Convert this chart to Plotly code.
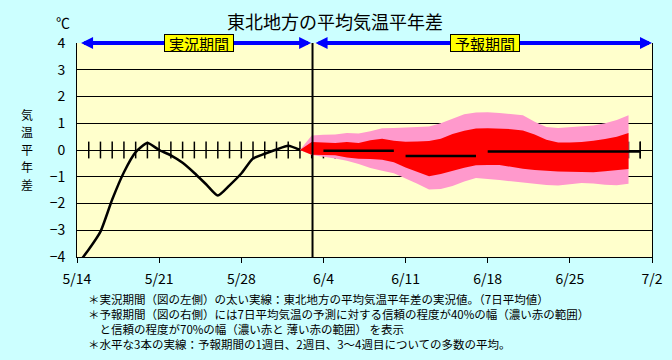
import plotly.graph_objects as go

# ---------------- data ----------------
tick_days = [0, 7, 14, 21, 28, 35, 42, 49]
tick_labels = ["5/14", "5/21", "5/28", "6/4", "6/11", "6/18", "6/25", "7/2"]

# observed 7-day mean anomaly (days since 5/14)
obs_days = list(range(0, 20))
obs_vals = [-4.3, -3.72, -3.05, -1.85, -0.83, -0.08, 0.26, 0.0, -0.20, -0.48,
            -0.86, -1.28, -1.70, -1.32, -0.88, -0.32, -0.14, 0.02, 0.16, 0.0]

# forecast confidence bands (days since 5/14)
fc_days = list(range(19, 48))
pink_upper = [0.0, 0.54, 0.57, 0.58, 0.64, 0.62, 0.70, 0.81, 0.82, 0.84,
              0.86, 0.88, 1.00, 1.18, 1.34, 1.40, 1.41, 1.38, 1.35, 1.30,
              1.06, 0.86, 0.82, 0.85, 0.88, 0.92, 1.00, 1.12, 1.30]
red_upper = [0.0, 0.30, 0.28, 0.26, 0.30, 0.26, 0.36, 0.42, 0.35, 0.31,
             0.32, 0.34, 0.42, 0.60, 0.72, 0.80, 0.81, 0.80, 0.78, 0.73,
             0.58, 0.38, 0.28, 0.28, 0.30, 0.35, 0.41, 0.50, 0.64]
red_lower = [0.0, -0.18, -0.19, -0.20, -0.28, -0.33, -0.34, -0.36, -0.46, -0.65,
             -0.83, -0.98, -0.90, -0.79, -0.66, -0.57, -0.56, -0.56, -0.62, -0.70,
             -0.75, -0.78, -0.80, -0.81, -0.81, -0.83, -0.79, -0.74, -0.71]
pink_lower = [0.0, -0.19, -0.25, -0.32, -0.40, -0.52, -0.67, -0.78, -0.87, -1.05,
              -1.26, -1.48, -1.46, -1.35, -1.18, -1.05, -1.08, -1.12, -1.17, -1.23,
              -1.27, -1.31, -1.33, -1.28, -1.23, -1.25, -1.30, -1.32, -1.26]

# ensemble mean for week1, week2, weeks3-4: (start day, end day, value)
week_starts = [21, 28, 35]
week_ends = [27, 34, 48]
week_means = [-0.03, -0.22, -0.06]

zero_tick_days = list(range(1, 49))
boundary_day = 20.07

y_title_chars = ["気", "温", "平", "年", "差"]
notes = [
    "＊実況期間（図の左側）の太い実線：東北地方の平均気温平年差の実況値。（7日平均値）",
    "＊予報期間（図の右側）には7日平均気温の予測に対する信頼の程度が40%の幅（濃い赤の範囲）",
    "　と信頼の程度が70%の幅（濃い赤と 薄い赤の範囲） を表示",
    "＊水平な3本の実線：予報期間の1週目、2週目、3～4週目についての多数の平均。",
]

# ---------------- figure ----------------
W, H = 672, 360
L, R, T, B = 77, 20, 43, 103
PW, PH = W - L - R, H - T - B
FONT = "Noto Sans CJK JP"

def px(xp):
    return (xp - L) / PW

def py(yp):
    return (H - B - yp) / PH

fig = go.Figure()

# zero line ticks
fig.add_trace(go.Scatter(
    x=zero_tick_days, y=[0] * len(zero_tick_days), mode="markers",
    marker=dict(symbol="line-ns", size=12, line=dict(color="black", width=1.5)),
    hoverinfo="skip", showlegend=False))

# 70% band (pink)
fig.add_trace(go.Scatter(
    x=fc_days + fc_days[::-1], y=pink_upper + pink_lower[::-1],
    fill="toself", fillcolor="#FF99CC", line=dict(width=0, color="#FF99CC"),
    mode="lines", hoverinfo="skip", showlegend=False))
# 40% band (red)
fig.add_trace(go.Scatter(
    x=fc_days + fc_days[::-1], y=red_upper + red_lower[::-1],
    fill="toself", fillcolor="#FF0000", line=dict(width=0, color="#FF0000"),
    mode="lines", hoverinfo="skip", showlegend=False))

# weekly means
for s, e, v in zip(week_starts, week_ends, week_means):
    fig.add_trace(go.Scatter(
        x=[s, e], y=[v, v], mode="lines",
        line=dict(color="black", width=2.5), hoverinfo="skip", showlegend=False))

# end tick of forecast period
fig.add_trace(go.Scatter(
    x=[week_ends[-1]], y=[0], mode="markers",
    marker=dict(symbol="line-ns", size=12, line=dict(color="black", width=1.5)),
    hoverinfo="skip", showlegend=False))

# observed line
fig.add_trace(go.Scatter(
    x=obs_days, y=obs_vals, mode="lines",
    line=dict(color="black", width=2.5, shape="spline", smoothing=0.6),
    hoverinfo="skip", showlegend=False))

# boundary line
fig.add_shape(type="line", xref="x", yref="y", x0=boundary_day, x1=boundary_day,
              y0=-4, y1=4, line=dict(color="black", width=2), layer="above")

annos = []
# period arrows
for x0, x1 in [(0.22, 19.95), (20.2, 49.0)]:
    annos.append(dict(
        x=x1, y=4, ax=x0, ay=4, xref="x", yref="y", axref="x", ayref="y",
        text="", showarrow=True, arrowside="end+start",
        arrowhead=2, startarrowhead=2, arrowsize=0.6, startarrowsize=0.6,
        arrowwidth=4, arrowcolor="#0000FF"))
for xc, txt in [(10.43, "実況期間"), (34.8, "予報期間")]:
    annos.append(dict(
        x=xc, y=4, xref="x", yref="y", text=txt, showarrow=False,
        font=dict(family=FONT, size=15, color="black"),
        bgcolor="#FFFF00", bordercolor="black", borderwidth=1, borderpad=0,
        width=68, height=16, xanchor="center", yanchor="middle"))

# title
annos.append(dict(x=px(335), y=py(21), xref="paper", yref="paper",
                  text="東北地方の平均気温平年差", showarrow=False,
                  font=dict(family=FONT, size=18, color="black"),
                  xanchor="center", yanchor="middle"))
# unit
annos.append(dict(x=px(63), y=py(22), xref="paper", yref="paper",
                  text="℃", showarrow=False,
                  font=dict(family=FONT, size=14, color="black"),
                  xanchor="center", yanchor="middle"))
# y axis title (vertical, one character per row)
for i, ch in enumerate(y_title_chars):
    annos.append(dict(x=px(27), y=py(114 + 17.6 * i), xref="paper", yref="paper",
                      text=ch, showarrow=False,
                      font=dict(family=FONT, size=12, color="black"),
                      xanchor="center", yanchor="middle"))
# notes (one block)
annos.append(dict(x=px(86), y=py(321), xref="paper", yref="paper",
                  text="<br>".join(notes), showarrow=False, align="left",
                  font=dict(family=FONT, size=11.5, color="black"),
                  xanchor="left", yanchor="middle"))

fig.update_layout(
    width=W, height=H,
    margin=dict(l=L, r=R, t=T, b=B, autoexpand=False),
    paper_bgcolor="#CCFFFF", plot_bgcolor="#FFFFCC",
    font=dict(family=FONT, size=14, color="black"),
    showlegend=False,
    annotations=annos,
    xaxis=dict(range=[0, 49], tickvals=tick_days, ticktext=tick_labels,
               showgrid=False, zeroline=False, showline=True, linecolor="black",
               linewidth=1, ticks="outside", ticklen=5, tickcolor="black",
               tickfont=dict(family=FONT, size=14), ticklabelstandoff=4),
    yaxis=dict(range=[-4, 4], dtick=1, tick0=0, showgrid=True, gridcolor="black",
               gridwidth=1, zeroline=True, zerolinecolor="black", zerolinewidth=1,
               showline=True, mirror=True, linecolor="black", linewidth=1,
               ticks="", tickfont=dict(family=FONT, size=14), ticklabelstandoff=8),
)

fig.write_html("out.html", config={"displayModeBar": False},
               post_script="document.body.style.margin='0';")
